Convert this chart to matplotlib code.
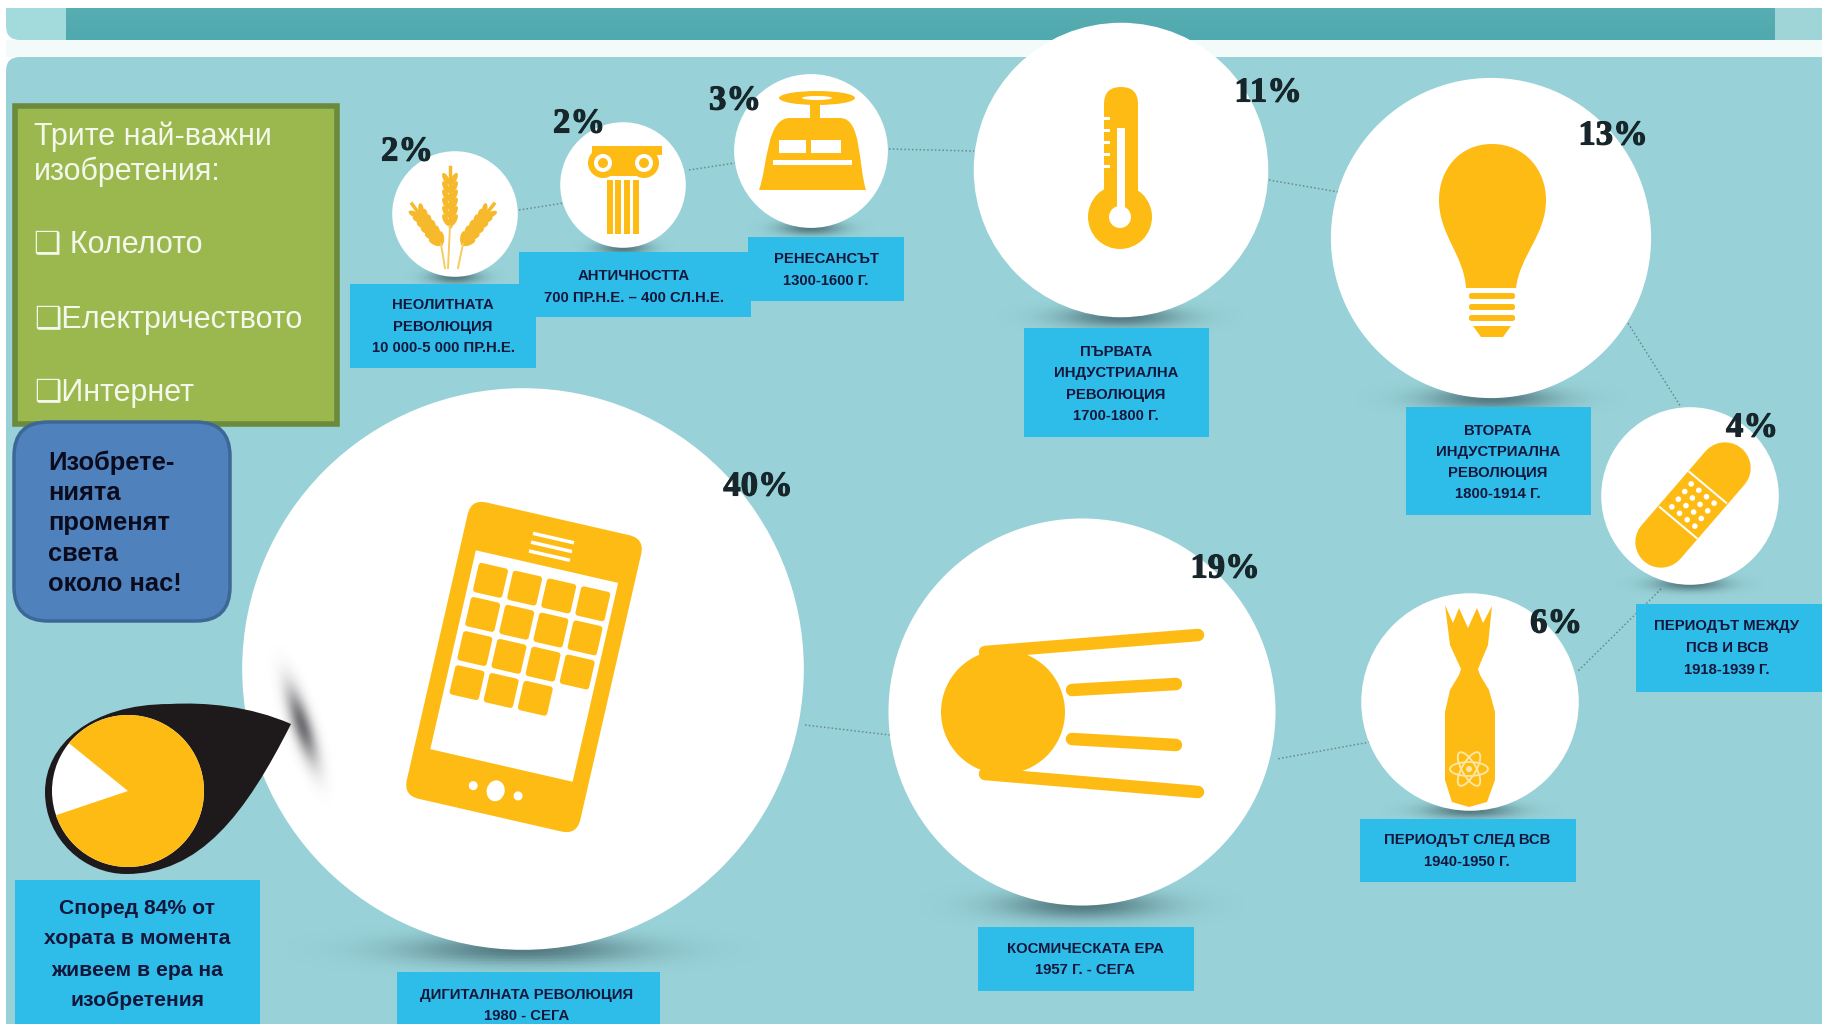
import numpy as np
import matplotlib
matplotlib.use("Agg")
import matplotlib.pyplot as plt
import matplotlib.patheffects as pe
from matplotlib.patches import Circle, Ellipse, FancyBboxPatch, PathPatch, Polygon, Rectangle, Wedge
from matplotlib.path import Path
from matplotlib.transforms import Affine2D

# era shares, in order along the dotted trail
era_names = [
    "НЕОЛИТНАТА\nРЕВОЛЮЦИЯ",
    "АНТИЧНОСТТА",
    "РЕНЕСАНСЪТ",
    "ПЪРВАТА\nИНДУСТРИАЛНА\nРЕВОЛЮЦИЯ",
    "ВТОРАТА\nИНДУСТРИАЛНА\nРЕВОЛЮЦИЯ",
    "ПЕРИОДЪТ МЕЖДУ\nПСВ И ВСВ",
    "ПЕРИОДЪТ СЛЕД ВСВ",
    "КОСМИЧЕСКАТА ЕРА",
    "ДИГИТАЛНАТА РЕВОЛЮЦИЯ",
]
era_periods = [
    "10 000-5 000 ПР.Н.Е.",
    "700 ПР.Н.Е. – 400 СЛ.Н.Е.",
    "1300-1600 Г.",
    "1700-1800 Г.",
    "1800-1914 Г.",
    "1918-1939 Г.",
    "1940-1950 Г.",
    "1957 Г. - СЕГА",
    "1980 - СЕГА",
]
era_shares = [2, 2, 3, 11, 13, 4, 6, 19, 40]
survey_share = 84

top_list = ["Трите най-важни", "изобретения:", "❑ Колелото", "❑Електричеството", "❑Интернет"]
note_lines = ["Изобрете-", "нията", "променят", "света", "около нас!"]
survey_lines = ["Според 84% от", "хората в момента", "живеем в ера на", "изобретения"]

YELLOW = "#FDBB14"
PANEL = "#98D2D8"
LABEL = "#2DBDE8"
INK = "#15163C"
NARROW = ["Liberation Sans Narrow", "Liberation Sans", "DejaVu Sans"]

# bubble centres in pixels, radius comes from the share (area scale)
centres = [(455, 214), (623, 185), (811, 151), (1121, 170), (1491, 238),
           (1690, 496), (1470, 702), (1082, 712), (523, 669)]
RADIUS_SCALE = 44.4

# label boxes: x0, y0, x1, y1, text centre x, y of first text line, line pitch
label_boxes = [
    (350, 284, 536, 368, 443, 305, 21.5),
    (519, 252, 751, 317, 634, 276, 21.5),
    (748, 237, 904, 301, 826, 259, 22),
    (1024, 328, 1209, 437, 1116, 352, 21.5),
    (1406, 407, 1591, 515, 1498, 431, 21),
    (1636, 604, 1822, 692, 1727, 626, 22),
    (1360, 819, 1576, 882, 1467, 840, 22),
    (978, 927, 1194, 991, 1085, 949, 21),
    (397, 972, 660, 1030, 527, 995, 21),
]
pct_spots = [(407, 152), (579, 124), (735, 101), (1268, 93), (1613, 136),
             (1752, 428), (1556, 624), (1225, 569), (758, 487)]
trail = [
    ((519, 210), (564, 203)),
    ((689, 170), (735, 163)),
    ((889, 149), (974, 151)),
    ((1269, 180), (1344, 193)),
    ((1626, 320), (1681, 407)),
    ((1661, 589), (1577, 672)),
    ((1370, 742), (1277, 759)),
    ((805, 725), (890, 735)),
]

fig = plt.figure(figsize=(18.22, 10.24), dpi=100)
ax = fig.add_axes([0, 0, 1, 1])
ax.set_xlim(0, 1822)
ax.set_ylim(1024, 0)
ax.axis("off")


def soft_blob(cx, cy, sx, sy, angle=0, strength=0.6, color=(0.15, 0.25, 0.28), zorder=2):
    # gaussian smudge used for the drop shadows
    pad = 3 * max(sx, sy)
    xs = np.linspace(cx - pad, cx + pad, 160)
    ys = np.linspace(cy - pad, cy + pad, 160)
    xx, yy = np.meshgrid(xs, ys)
    t = np.radians(angle)
    u = (xx - cx) * np.cos(t) + (yy - cy) * np.sin(t)
    v = -(xx - cx) * np.sin(t) + (yy - cy) * np.cos(t)
    rgba = np.zeros(xx.shape + (4,))
    rgba[..., :3] = color
    rgba[..., 3] = strength * np.exp(-(u / sx) ** 2 / 2 - (v / sy) ** 2 / 2)
    ax.imshow(rgba, extent=(xs[0], xs[-1], ys[-1], ys[0]), aspect="auto", zorder=zorder)


def shape(points, color=YELLOW, zorder=5):
    ax.add_patch(Polygon(points, closed=True, fc=color, ec="none", zorder=zorder))


def curve(verts, codes, color=YELLOW, zorder=5):
    ax.add_patch(PathPatch(Path(verts, codes), fc=color, ec="none", zorder=zorder))


def disc(x, y, r, color=YELLOW, zorder=5):
    ax.add_patch(Circle((x, y), r, fc=color, ec="none", zorder=zorder))


def box(x0, y0, x1, y1, color=YELLOW, zorder=5):
    ax.add_patch(Rectangle((x0, y0), x1 - x0, y1 - y0, fc=color, ec="none", zorder=zorder))


def wheat_ear(x0, y0, x1, y1):
    # base at x0,y0, tip at x1,y1
    ang = np.degrees(np.arctan2(y1 - y0, x1 - x0))
    for f in (0.1, 0.24, 0.38, 0.52, 0.66, 0.8):
        px, py = x0 + (x1 - x0) * f, y0 + (y1 - y0) * f
        nx, ny = np.cos(np.radians(ang + 90)), np.sin(np.radians(ang + 90))
        for side in (-1, 1):
            ax.add_patch(Ellipse((px + side * nx * 4, py + side * ny * 4), 13, 5.5,
                                 angle=ang + side * 28, fc="#F6B92B", ec="none", zorder=5))
    ax.plot([x0, x1], [y0, y1], color="#F6B92B", lw=2.5, zorder=5)


def draw_wheat():
    wheat_ear(450, 226, 450, 167)
    wheat_ear(441, 244, 412, 204)
    wheat_ear(463, 244, 494, 204)
    for xa, ya, xb in ((450, 226, 448), (441, 244, 445), (463, 244, 458)):
        ax.plot([xa, xb], [ya, 268], color="#F9CB5E", lw=1.4, zorder=5)


def draw_column():
    box(592, 146, 662, 155)
    box(600, 155, 650, 170)
    for x in (603, 644):
        disc(x, 163, 15)
        disc(x, 163, 9, "white", 6)
        disc(x, 163, 5, YELLOW, 7)
    box(607, 170, 641, 176)
    for x in (607, 615, 624, 633):
        box(x, 180, x + 6, 234)


def draw_press():
    ax.add_patch(Ellipse((817, 98), 76, 14, fc=YELLOW, ec="none", zorder=5))
    ax.add_patch(Ellipse((817, 98), 30, 4, fc="white", ec="none", zorder=6))
    box(810, 104, 820, 122)
    curve([(759, 190), (768, 165), (766, 118), (790, 118), (840, 118), (862, 118),
           (858, 165), (866, 190), (759, 190)],
          [Path.MOVETO, Path.CURVE4, Path.CURVE4, Path.CURVE4, Path.LINETO, Path.CURVE4,
           Path.CURVE4, Path.CURVE4, Path.CLOSEPOLY])
    box(779, 140, 806, 153, "white", 6)
    box(811, 140, 841, 153, "white", 6)
    box(773, 160, 852, 165, "white", 6)


def draw_thermometer():
    ax.add_patch(FancyBboxPatch((1104, 87), 34, 120, boxstyle="round,pad=0,rounding_size=17",
                                fc=YELLOW, ec="none", zorder=5))
    disc(1120, 217, 32)
    box(1117, 128, 1125, 217, "white", 6)
    disc(1120, 217, 11, "white", 6)
    for y in (117, 129, 141, 153, 165):
        box(1103, y, 1110, y + 3, "white", 6)


def draw_bulb():
    curve([(1492, 144), (1525, 144), (1546, 170), (1546, 200), (1546, 235), (1520, 255),
           (1516, 288), (1466, 288), (1464, 255), (1439, 235), (1439, 200), (1439, 170),
           (1459, 144), (1492, 144)],
          [Path.MOVETO, Path.CURVE4, Path.CURVE4, Path.CURVE4, Path.CURVE4, Path.CURVE4,
           Path.CURVE4, Path.LINETO, Path.CURVE4, Path.CURVE4, Path.CURVE4, Path.CURVE4,
           Path.CURVE4, Path.CLOSEPOLY])
    for y in (293, 304, 315):
        ax.add_patch(FancyBboxPatch((1469, y), 46, 6, boxstyle="round,pad=0,rounding_size=2.5",
                                    fc=YELLOW, ec="none", zorder=5))
    shape([(1473, 326), (1511, 326), (1503, 337), (1481, 337)])


def draw_bandage():
    ax.plot([1661, 1725], [542, 468], color=YELLOW, lw=37, solid_capstyle="round", zorder=5)
    rot = Affine2D().rotate_deg(-50).translate(1693, 505) + ax.transData
    for lx in (-23, 23):
        ax.add_patch(Rectangle((lx - 1, -25), 2, 50, fc="white", ec="none", zorder=6, transform=rot))
    for lx in (-15, -5, 5, 15):
        for ly in (-15, -5, 5, 15):
            ax.add_patch(Circle((lx, ly), 2.8, fc="white", ec="none", zorder=6, transform=rot))


def draw_bomb():
    shape([(1445, 605), (1453, 623), (1459, 608), (1468, 628), (1477, 608), (1483, 623),
           (1492, 606), (1488, 645), (1478, 669), (1480, 675), (1489, 690), (1495, 712),
           (1495, 780), (1487, 802), (1469, 807), (1452, 802), (1445, 780), (1445, 712),
           (1450, 690), (1459, 675), (1461, 669), (1450, 645)])
    for ang in (0, 60, 120):
        ax.add_patch(Ellipse((1469, 769), 38, 14, angle=ang, fc="none", ec="#FFE9A8", lw=1.3, zorder=6))
    disc(1469, 769, 3, "#FFE9A8", 6)


def draw_sputnik():
    for (xa, ya), (xb, yb), lw in (((985, 652), (1198, 635), 9), ((1072, 690), (1176, 684), 9),
                                   ((1072, 739), (1176, 745), 9), ((985, 774), (1198, 792), 9)):
        ax.plot([xa, xb], [ya, yb], color=YELLOW, lw=lw, solid_capstyle="round", zorder=5)
    disc(1003, 712, 62, YELLOW, 7)


def draw_phone():
    cx, cy = 524, 667
    rot = Affine2D().rotate_deg(12.9).translate(cx, cy) + ax.transData
    ax.add_patch(FancyBboxPatch((-89, -152), 178, 304, boxstyle="round,pad=0,rounding_size=16",
                                fc=YELLOW, ec="none", zorder=5, transform=rot))
    ax.add_patch(Rectangle((-73, -103), 146, 204, fc="white", ec="none", zorder=6, transform=rot))
    for ly in (-134, -125, -116):
        ax.add_patch(Rectangle((-21, ly), 42, 3.5, fc="white", ec="none", zorder=6, transform=rot))
    rows = (-77, -42, -7, 28)
    cols = (-52, -17, 18, 53)
    for i, ly in enumerate(rows):
        for lx in cols[:3 if i == 3 else 4]:
            ax.add_patch(FancyBboxPatch((lx - 15, ly - 15), 30, 30, boxstyle="round,pad=0,rounding_size=3",
                                        fc=YELLOW, ec="none", zorder=7, transform=rot))
    ax.add_patch(Ellipse((0, 127), 18, 21, fc="white", ec="none", zorder=6, transform=rot))
    for lx in (-23, 23):
        ax.add_patch(Circle((lx, 127), 4.5, fc="white", ec="none", zorder=6, transform=rot))


# header band and panel
gradient = np.linspace(0, 1, 32).reshape(-1, 1)
ax.imshow(gradient, extent=(66, 1775, 40, 8), aspect="auto", cmap=matplotlib.colors.LinearSegmentedColormap.from_list(
    "band", ["#58AEB2", "#4FA9AE"]), zorder=1)
ax.add_patch(FancyBboxPatch((6, -20), 80, 60, boxstyle="round,pad=0,rounding_size=14",
                            fc="#A3DADB", ec="none", zorder=0.5))
box(0, 0, 1822, 8, "white", 0.8)
box(1775, 8, 1822, 40, "#9FD5D7", 1)
box(6, 40, 1822, 57, "#F2FAFA", 0.4)
ax.add_patch(FancyBboxPatch((6, 57), 1900, 1100, boxstyle="round,pad=0,rounding_size=14",
                            fc=PANEL, ec="none", zorder=0.6))

# dotted trail between the eras
for (a, b) in trail:
    ax.plot([a[0], b[0]], [a[1], b[1]], color="#6A8A8A", lw=1.1, ls=(0, (1, 1.5)), zorder=1.5)

# bubbles, area follows the share
for share, (cx, cy) in zip(era_shares, centres):
    r = RADIUS_SCALE * np.sqrt(share)
    soft_blob(cx, cy + r, r * 0.28, max(5, min(r * 0.05, 10)), strength=0.6)
    ax.add_patch(Circle((cx, cy), r, fc="white", ec="none", zorder=3))

draw_wheat()
draw_column()
draw_press()
draw_thermometer()
draw_bulb()
draw_bandage()
draw_bomb()
draw_sputnik()
draw_phone()

# era labels
for name, period, (x0, y0, x1, y1, tx, ty, pitch) in zip(era_names, era_periods, label_boxes):
    box(x0, y0, x1, y1, LABEL, 8)
    for i, line in enumerate(name.split("\n") + [period]):
        ax.text(tx, ty + i * pitch, line, ha="center", va="center", fontsize=10.7, fontweight="bold",
                family=NARROW, color=INK, zorder=9)

# share numbers
for share, (x, y) in zip(era_shares, pct_spots):
    ax.text(x, y, f"{share}%", ha="center", va="center", fontsize=25, fontweight="bold",
            family=["Liberation Serif", "DejaVu Serif"], color="#16262B", zorder=9,
            path_effects=[pe.withStroke(linewidth=0.8, foreground="#16262B")])

# side note boxes
ax.add_patch(Rectangle((15, 106), 322, 318, fc="#9BB84F", ec="#6B8A3C", lw=4, zorder=10))
for line, y in zip(top_list, (137, 172, 245, 320, 393)):
    ax.text(34, y, line, ha="left", va="center", fontsize=22, color="#F4F8EC",
            family=["Liberation Sans", "DejaVu Sans"], zorder=11)

ax.add_patch(FancyBboxPatch((14, 422), 216, 199, boxstyle="round,pad=0,rounding_size=34",
                            fc="#4F81BD", ec="#3D6796", lw=2.5, zorder=10))
for line, y in zip(note_lines, (463, 493, 523, 554, 584)):
    ax.text(48, y, line, ha="left", va="center", fontsize=18.4, fontweight="bold", color="#0B0B1E",
            family=["Liberation Sans", "DejaVu Sans"], zorder=11)

# survey callout
soft_blob(302, 725, 7, 27, angle=-18, strength=0.7, color=(0.2, 0.2, 0.22), zorder=3.5)
curve([(291, 724), (250, 706), (205, 702), (170, 704), (90, 704), (45, 745), (45, 792),
       (45, 840), (85, 874), (126, 874), (200, 874), (245, 815), (291, 724)],
      [Path.MOVETO, Path.CURVE4, Path.CURVE4, Path.CURVE4, Path.CURVE4, Path.CURVE4, Path.CURVE4,
       Path.CURVE4, Path.CURVE4, Path.CURVE4, Path.CURVE4, Path.CURVE4, Path.CLOSEPOLY],
      color="#1E1A1C", zorder=12)
disc(128, 791, 76, "white", 13)
start = 219
ax.add_patch(Wedge((128, 791), 76, start, start + survey_share * 3.6, fc=YELLOW, ec="none", zorder=14))

box(15, 880, 260, 1024, LABEL, 10)
for line, y in zip(survey_lines, (908, 939, 971, 1000)):
    ax.text(137, y, line, ha="center", va="center", fontsize=15.2, fontweight="bold", color=INK,
            family=NARROW, zorder=11)

ax.set_xlim(0, 1822)
ax.set_ylim(1024, 0)
fig.savefig("out.png", dpi=100)
